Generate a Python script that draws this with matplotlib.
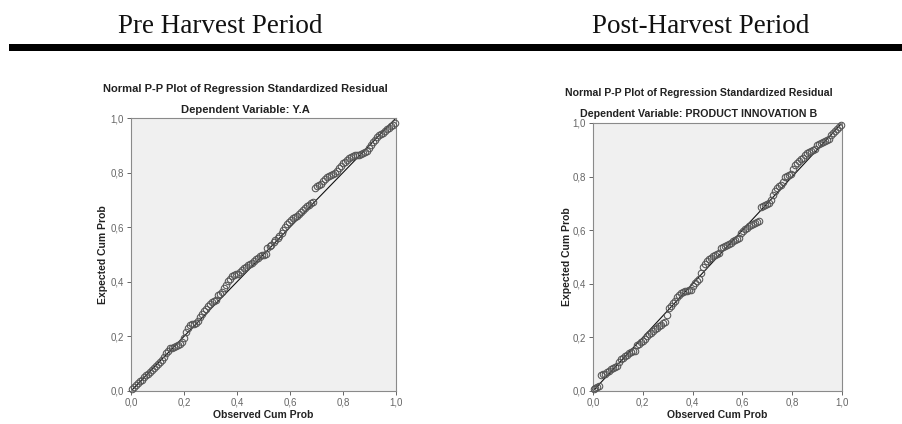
import matplotlib
matplotlib.use("Agg")
import matplotlib.pyplot as plt
from matplotlib.patches import Rectangle

# ---------------- data ----------------
panel_headers = ["Pre Harvest Period", "Post-Harvest Period"]
plot_title = "Normal P-P Plot of Regression Standardized Residual"
dep_vars = ["Dependent Variable: Y.A", "Dependent Variable: PRODUCT INNOVATION B"]
x_label = "Observed Cum Prob"
y_label = "Expected Cum Prob"
tick_values = [0.0, 0.2, 0.4, 0.6, 0.8, 1.0]
tick_labels = ["0,0", "0,2", "0,4", "0,6", "0,8", "1,0"]

pre_observed = [0.005, 0.012, 0.02, 0.028, 0.035, 0.043, 0.05, 0.058, 0.065, 0.073,
                0.08, 0.088, 0.095, 0.103, 0.11, 0.118, 0.125, 0.133, 0.14, 0.148,
                0.155, 0.163, 0.17, 0.178, 0.185, 0.193, 0.2, 0.208, 0.215, 0.222,
                0.23, 0.238, 0.245, 0.253, 0.26, 0.268, 0.275, 0.283, 0.29, 0.298,
                0.305, 0.313, 0.32, 0.328, 0.335, 0.343, 0.35, 0.358, 0.365, 0.373,
                0.38, 0.388, 0.395, 0.403, 0.41, 0.418, 0.425, 0.433, 0.44, 0.448,
                0.455, 0.463, 0.47, 0.478, 0.485, 0.493, 0.5, 0.508, 0.515, 0.523,
                0.53, 0.538, 0.545, 0.553, 0.56, 0.568, 0.575, 0.583, 0.59, 0.598,
                0.605, 0.613, 0.62, 0.628, 0.635, 0.643, 0.65, 0.658, 0.665, 0.673,
                0.68, 0.688, 0.695, 0.703, 0.71, 0.718, 0.725, 0.733, 0.74, 0.748,
                0.755, 0.763, 0.77, 0.778, 0.785, 0.793, 0.8, 0.808, 0.815, 0.823,
                0.83, 0.838, 0.845, 0.853, 0.86, 0.868, 0.875, 0.883, 0.89, 0.898,
                0.905, 0.913, 0.92, 0.928, 0.935, 0.943, 0.95, 0.958, 0.965, 0.973,
                0.98, 0.988, 0.995]
pre_expected = [0.008, 0.015, 0.022, 0.028, 0.036, 0.042, 0.05, 0.058, 0.063, 0.07,
                0.078, 0.085, 0.09, 0.098, 0.106, 0.115, 0.125, 0.138, 0.148, 0.156,
                0.158, 0.162, 0.165, 0.168, 0.172, 0.18, 0.195, 0.215, 0.232, 0.24,
                0.244, 0.246, 0.25, 0.258, 0.27, 0.282, 0.292, 0.302, 0.31, 0.32,
                0.325, 0.33, 0.332, 0.352, 0.356, 0.362, 0.378, 0.39, 0.402, 0.41,
                0.42, 0.426, 0.428, 0.43, 0.436, 0.445, 0.45, 0.455, 0.46, 0.466,
                0.47, 0.476, 0.482, 0.488, 0.494, 0.497, 0.5, 0.503, 0.522, 0.53,
                0.536, 0.544, 0.552, 0.56, 0.566, 0.578, 0.59, 0.602, 0.612, 0.62,
                0.626, 0.634, 0.638, 0.642, 0.648, 0.655, 0.664, 0.672, 0.676, 0.682,
                0.688, 0.692, 0.745, 0.752, 0.756, 0.76, 0.768, 0.776, 0.784, 0.788,
                0.79, 0.794, 0.798, 0.806, 0.818, 0.826, 0.834, 0.84, 0.846, 0.852,
                0.858, 0.862, 0.865, 0.866, 0.866, 0.868, 0.87, 0.874, 0.88, 0.89,
                0.9, 0.912, 0.92, 0.93, 0.936, 0.94, 0.945, 0.952, 0.958, 0.964,
                0.97, 0.976, 0.982]

post_observed = [0.003, 0.010, 0.018, 0.026, 0.034, 0.042, 0.050, 0.058, 0.066, 0.074,
                 0.082, 0.090, 0.098, 0.106, 0.114, 0.122, 0.130, 0.138, 0.146, 0.154,
                 0.162, 0.170, 0.178, 0.186, 0.194, 0.202, 0.21, 0.218, 0.226, 0.234,
                 0.242, 0.25, 0.258, 0.266, 0.274, 0.282, 0.290, 0.298, 0.306, 0.314,
                 0.322, 0.330, 0.338, 0.346, 0.354, 0.362, 0.370, 0.378, 0.386, 0.394,
                 0.402, 0.410, 0.418, 0.426, 0.434, 0.442, 0.450, 0.458, 0.466, 0.474,
                 0.482, 0.490, 0.498, 0.506, 0.514, 0.522, 0.530, 0.538, 0.546, 0.554,
                 0.562, 0.570, 0.578, 0.586, 0.594, 0.602, 0.610, 0.618, 0.626, 0.634,
                 0.642, 0.650, 0.658, 0.666, 0.674, 0.682, 0.690, 0.698, 0.706, 0.714,
                 0.722, 0.730, 0.738, 0.746, 0.754, 0.762, 0.770, 0.778, 0.786, 0.794,
                 0.802, 0.810, 0.818, 0.826, 0.834, 0.842, 0.850, 0.858, 0.866, 0.874,
                 0.882, 0.890, 0.898, 0.906, 0.914, 0.922, 0.930, 0.938, 0.946, 0.954,
                 0.962, 0.970, 0.978, 0.986, 0.994]
post_expected = [0.009, 0.012, 0.015, 0.019, 0.059, 0.062, 0.064, 0.071, 0.076, 0.081,
                 0.085, 0.089, 0.095, 0.108, 0.118, 0.124, 0.13, 0.136, 0.142, 0.146,
                 0.148, 0.151, 0.17, 0.176, 0.182, 0.188, 0.195, 0.207, 0.212, 0.218,
                 0.224, 0.23, 0.236, 0.242, 0.248, 0.252, 0.258, 0.284, 0.31, 0.318,
                 0.328, 0.336, 0.352, 0.36, 0.366, 0.37, 0.372, 0.374, 0.376, 0.378,
                 0.392, 0.402, 0.41, 0.418, 0.44, 0.462, 0.474, 0.485, 0.492, 0.497,
                 0.502, 0.507, 0.511, 0.514, 0.534, 0.538, 0.542, 0.546, 0.55, 0.554,
                 0.558, 0.562, 0.566, 0.57, 0.59, 0.598, 0.604, 0.61, 0.616, 0.62,
                 0.624, 0.628, 0.63, 0.634, 0.686, 0.69, 0.694, 0.698, 0.702, 0.712,
                 0.73, 0.748, 0.756, 0.764, 0.77, 0.78, 0.798, 0.802, 0.806, 0.81,
                 0.83, 0.842, 0.85, 0.858, 0.864, 0.87, 0.882, 0.888, 0.892, 0.896,
                 0.9, 0.904, 0.918, 0.922, 0.926, 0.93, 0.934, 0.938, 0.942, 0.956,
                 0.962, 0.97, 0.978, 0.986, 0.992]

# ---------------- figure ----------------
W, H = 903, 424
fig = plt.figure(figsize=(W / 100, H / 100), dpi=100)
fig.patch.set_facecolor("white")

def fx(px):
    return px / W

def fy(py):
    return 1 - py / H

# header texts and thick rule
fig.text(fx(220), fy(33), panel_headers[0], family="Liberation Serif",
         fontsize=19.5, ha="center", va="baseline", color="#111111")
fig.text(fx(701), fy(33), panel_headers[1], family="Liberation Serif",
         fontsize=19.5, ha="center", va="baseline", color="#111111")
fig.add_artist(Rectangle((fx(9), fy(51)), 1 - fx(9), (51 - 44) / H,
                         transform=fig.transFigure, color="black", lw=0))

panels = [
    dict(box=(131, 118, 396, 391), obs=pre_observed, exp=pre_expected,
         title_y=89, sub_y=110, cx=245, title_fs=8.0, sub_fs=8.1, ylab_x=103),
    dict(box=(593, 123, 842, 391), obs=post_observed, exp=post_expected,
         title_y=93, sub_y=114, cx=699, title_fs=7.6, sub_fs=7.7, ylab_x=567),
]

sans = "Liberation Sans"
for i, p in enumerate(panels):
    x0, y0, x1, y1 = p["box"]
    ax = fig.add_axes([fx(x0), fy(y1), (x1 - x0) / W, (y1 - y0) / H])
    ax.set_facecolor("#f0f0f0")
    ax.plot([0, 1], [0, 1], color="#111111", lw=0.8, zorder=2)
    ax.plot(p["obs"], p["exp"], linestyle="none", marker="o", markersize=4.7,
            markerfacecolor="none", markeredgecolor="#555555",
            markeredgewidth=0.75, zorder=3, clip_on=False)
    ax.set_xlim(0, 1)
    ax.set_ylim(0, 1)
    ax.set_xticks(tick_values)
    ax.set_xticklabels(tick_labels)
    ax.set_yticks(tick_values)
    ax.set_yticklabels(tick_labels)
    ax.tick_params(axis="both", direction="out", length=3, width=0.7,
                   color="#666666", labelsize=7, labelcolor="#666666", pad=2)
    for lab in ax.get_xticklabels() + ax.get_yticklabels():
        lab.set_family(sans)
    for s in ax.spines.values():
        s.set_color("#8a8a8a")
        s.set_linewidth(0.8)
    ax.set_xlabel(x_label, family=sans, fontweight="bold", fontsize=7.5,
                  color="#222222", labelpad=5)
    ax.set_ylabel(y_label, family=sans, fontweight="bold", fontsize=7.5,
                  color="#222222")
    ax.yaxis.set_label_coords((p["ylab_x"] - x0) / (x1 - x0), 0.5)
    ax.xaxis.set_label_coords(0.5, -(415 - y1) / (y1 - y0))
    ax.xaxis.label.set_va("center")
    ax.yaxis.label.set_va("center")

    fig.text(fx(p["cx"]), fy(p["title_y"]), plot_title, family=sans,
             fontweight="bold", fontsize=p["title_fs"], ha="center", va="center",
             color="#222222")
    fig.text(fx(p["cx"]), fy(p["sub_y"]), dep_vars[i], family=sans,
             fontweight="bold", fontsize=p["sub_fs"], ha="center", va="center",
             color="#222222")

fig.savefig("out.png", dpi=100, facecolor="white")
